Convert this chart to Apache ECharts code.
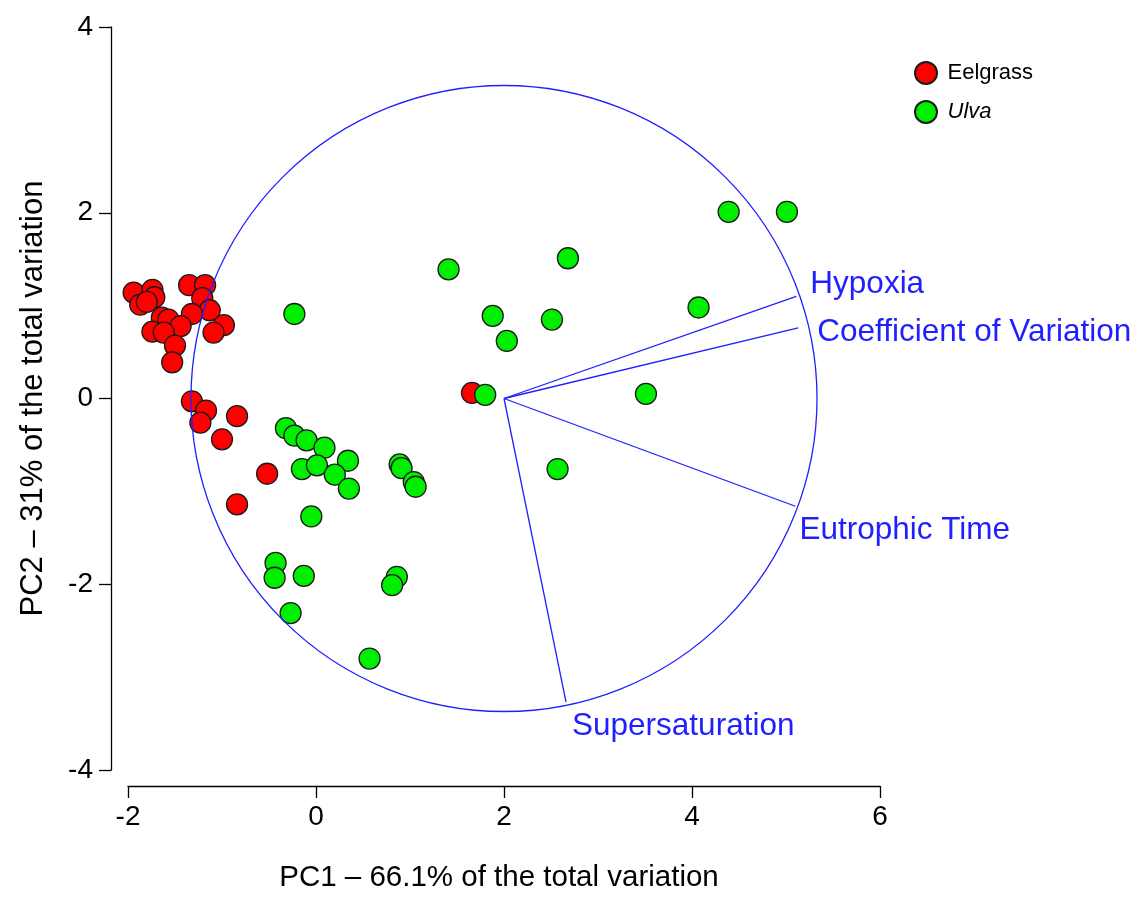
<!DOCTYPE html>
<html>
<head>
<meta charset="utf-8">
<script src="https://cdn.jsdelivr.net/npm/echarts@6/dist/echarts.min.js"></script>
<style>
html, body { margin: 0; padding: 0; background: #fff; }
#main { width: 1136px; height: 898px; }
</style>
</head>
<body>
<div id="main"></div>
<script>
// PCA biplot: Eelgrass vs Ulva sites
var eelgrassX = [-1.94, -1.74, -1.72, -1.87, -1.80, -1.35, -1.18, -1.21, -1.13, -1.32,
                 -1.64, -1.57, -1.44, -0.98, -1.09, -1.74, -1.62, -1.50, -1.53, -1.32,
                 -1.17, -1.23, -0.84, -1.00, -0.52, -0.84, 1.66];
var eelgrassY = [1.14, 1.17, 1.09, 1.01, 1.04, 1.22, 1.22, 1.08, 0.95, 0.91,
                 0.87, 0.85, 0.78, 0.79, 0.71, 0.72, 0.71, 0.57, 0.39, -0.03,
                 -0.13, -0.26, -0.19, -0.44, -0.81, -1.14, 0.06];
var ulvaX = [-0.23, -0.32, -0.23, -0.10, 0.09, 0.34, -0.15, 0.01, 0.20, 0.35,
             -0.05, 0.89, 0.91, 1.04, 1.06, -0.43, -0.44, -0.13, -0.27, 0.86,
             0.81, 0.57, 1.41, 2.68, 1.88, 2.51, 2.03, 1.80, 2.57, 4.39,
             5.01, 4.07, 3.51];
var ulvaY = [0.91, -0.32, -0.40, -0.45, -0.53, -0.67, -0.76, -0.72, -0.82, -0.97,
             -1.27, -0.71, -0.75, -0.90, -0.95, -1.77, -1.93, -1.91, -2.31, -1.92,
             -2.01, -2.80, 1.39, 1.51, 0.89, 0.85, 0.62, 0.04, -0.76, 2.01,
             2.01, 0.98, 0.05];

// loading vectors (start at circle centre)
var vectorNames = ['Hypoxia', 'Coefficient of Variation', 'Eutrophic Time', 'Supersaturation'];
var vectorX = [5.11, 5.13, 5.10, 2.66];
var vectorY = [1.10, 0.76, -1.16, -3.27];
var circleCenter = [2, 0];
var circleRadius = 3.33;

var xMin = -2, xMax = 6, xStep = 2;
var yMin = -4, yMax = 4, yStep = 2;

var FONT = '"Liberation Sans", Arial, sans-serif';
var BLUE = '#1f1fff';
// pixel nudges for the vector labels
var labelOffsets = [[14, -12], [19, 4], [4, 24], [6, 24]];

function pairs(xs, ys) {
    var out = [];
    for (var i = 0; i < xs.length; i++) out.push([xs[i], ys[i]]);
    return out;
}

var vecData = [];
for (var i = 0; i < vectorNames.length; i++) {
    vecData.push([vectorX[i], vectorY[i], vectorNames[i]]);
}

var chart = echarts.init(document.getElementById('main'));

var axisCommon = {
    type: 'value',
    splitLine: { show: false },
    axisLine: { show: true, onZero: false, lineStyle: { color: '#000', width: 1.3 } },
    axisTick: { show: true, length: 12, lineStyle: { color: '#000', width: 1.3 } },
    axisLabel: { color: '#000', fontSize: 28, fontFamily: FONT, showMinLabel: true, showMaxLabel: true },
    nameLocation: 'middle'
};

chart.setOption({
    animation: false,
    backgroundColor: '#fff',
    grid: { left: 128, top: 27, width: 752, height: 752, containLabel: false },
    legend: {
        orient: 'vertical',
        left: 914,
        top: 61,
        padding: 0,
        itemWidth: 33,   // wide box, circle stays 22px -> text sits further right
        itemHeight: 22,
        itemGap: 15,
        icon: 'circle',
        data: ['Eelgrass', 'Ulva'],
        formatter: function (name) {
            return name === 'Ulva' ? '{it|Ulva}' : name;
        },
        textStyle: {
            color: '#000', fontSize: 22, fontFamily: FONT,
            rich: { it: { fontStyle: 'italic', fontSize: 22, fontFamily: FONT, color: '#000' } }
        }
    },
    xAxis: echarts.util.merge({
        min: xMin, max: xMax, interval: xStep,
        offset: 16,
        axisLabel: { margin: 17 },
        name: 'PC1 \u2013 66.1% of the total variation',
        nameGap: 77,
        nameTextStyle: { color: '#000', fontSize: 29.5, fontFamily: FONT, padding: [0, 10, 0, 0] }
    }, axisCommon),
    yAxis: echarts.util.merge({
        min: yMin, max: yMax, interval: yStep,
        offset: 17,
        axisLabel: { margin: 18 },
        name: 'PC2 \u2013 31% of the total variation',
        nameGap: 62,
        nameTextStyle: { color: '#000', fontSize: 31, fontFamily: FONT }
    }, axisCommon),
    series: [
        {
            name: 'Eelgrass',
            type: 'scatter',
            data: pairs(eelgrassX, eelgrassY),
            symbolSize: 21,
            itemStyle: { color: '#ff0000', borderColor: '#1a1a1a', borderWidth: 1.3, opacity: 1 },
            z: 2
        },
        {
            name: 'Ulva',
            type: 'scatter',
            data: pairs(ulvaX, ulvaY),
            symbolSize: 21,
            itemStyle: { color: '#00ee00', borderColor: '#1a1a1a', borderWidth: 1.3, opacity: 1 },
            z: 3
        },
        {
            name: 'circle',
            type: 'custom',
            clip: false,
            silent: true,
            z: 4,
            data: [circleCenter],
            renderItem: function (params, api) {
                var c = api.coord(circleCenter);
                var r = api.size([circleRadius, 0])[0];
                return {
                    type: 'circle',
                    shape: { cx: c[0], cy: c[1], r: r },
                    style: { fill: null, stroke: BLUE, lineWidth: 1.3 }
                };
            }
        },
        {
            name: 'vectors',
            type: 'custom',
            clip: false,
            silent: true,
            z: 4,
            data: vecData,
            renderItem: function (params, api) {
                var o = api.coord(circleCenter);
                var e = api.coord([api.value(0), api.value(1)]);
                var off = labelOffsets[params.dataIndex];
                return {
                    type: 'group',
                    children: [
                        {
                            type: 'line',
                            shape: { x1: o[0], y1: o[1], x2: e[0], y2: e[1] },
                            style: { stroke: BLUE, lineWidth: 1.3 }
                        },
                        {
                            type: 'text',
                            x: e[0] + off[0],
                            y: e[1] + off[1],
                            style: {
                                text: vectorNames[params.dataIndex],
                                fill: BLUE,
                                font: '31.5px ' + FONT,
                                align: 'left',
                                verticalAlign: 'middle'
                            }
                        }
                    ]
                };
            }
        }
    ]
});
</script>
</body>
</html>
